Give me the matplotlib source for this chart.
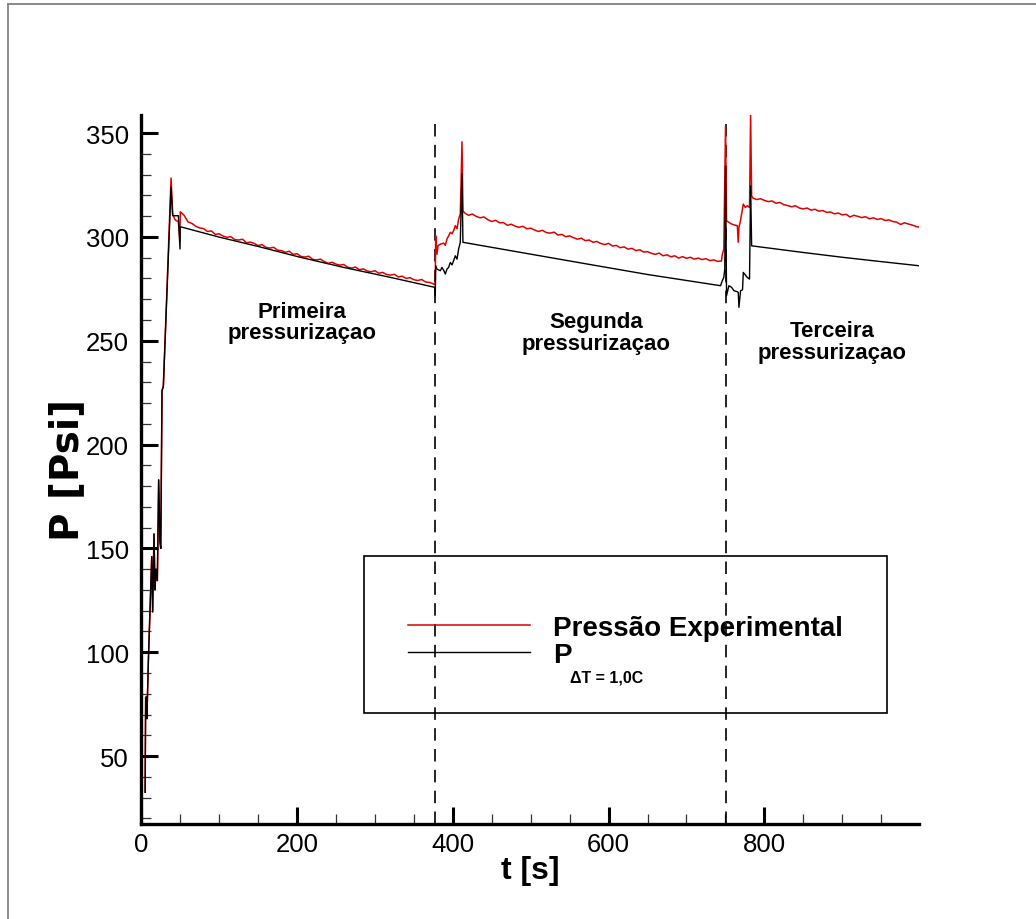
import matplotlib
matplotlib.use("Agg")
import matplotlib.pyplot as plt
from matplotlib.ticker import MultipleLocator
from matplotlib.patches import Rectangle
from matplotlib.lines import Line2D
from matplotlib.transforms import IdentityTransform
import numpy as np

plt.rcParams['font.family'] = ['Liberation Sans', 'DejaVu Sans']
plt.rcParams['lines.scale_dashes'] = False

# ---------------------------------------------------------------- data
# initial filling ramp (both curves coincide here)
ramp_t = [4.9, 5.6, 6.5, 7.2, 9.0, 13.4, 14.6, 16.3, 17.6, 18.9, 20.6, 22.3, 24.0, 25.0, 26.6, 28.3]
ramp_p = [32.6, 78.3, 78.5, 68.0, 95.0, 146.0, 119.4, 157.0, 130.0, 140.0, 134.5, 183.0, 153.0, 150.0, 226.0, 228.0]

# experimental pressure: first peak
exp_peak1_t = [38.2, 40.3, 43.3, 47.6, 49.5, 50.1]
exp_peak1_p = [328.3, 311.0, 308.3, 307.3, 298.0, 312.1]

# experimental pressure: first pressurization, sampled every 5 s from t = 55 s
exp_seg1_start, exp_seg1_step = 55.0, 5.0
exp_seg1_p = [310.4, 307.2, 306.5, 305.1, 304.3, 304.0, 302.6, 302.9, 301.2, 301.5,
              300.4, 299.8, 300.1, 298.7, 298.5, 298.9, 297.2, 297.5, 296.9, 295.8,
              296.3, 295.0, 294.6, 295.0, 293.6, 293.4, 292.6, 293.1, 291.6, 291.9,
              290.6, 290.3, 290.7, 289.2, 288.9, 289.3, 288.1, 287.3, 287.8, 286.9,
              286.4, 286.7, 285.4, 285.0, 285.5, 284.2, 284.6, 283.6, 283.2, 283.7,
              282.5, 282.9, 281.9, 281.6, 282.0, 280.7, 281.1, 280.0, 280.4, 279.4,
              279.0, 279.5, 278.3, 278.1, 277.4]

# experimental pressure: second pressurization transient
exp_tr2_t = [376.5, 377.5, 378.0, 379.7, 381.0, 384.0, 388.2, 390.4, 392.5, 394.6,
             396.8, 399.0, 401.0, 403.2, 405.4, 407.5, 409.6, 411.8, 413.0]
exp_tr2_p = [277.0, 277.3, 300.6, 291.7, 295.8, 296.5, 297.0, 296.0, 299.0, 300.5,
             302.2, 301.5, 303.0, 305.4, 304.0, 308.6, 311.0, 345.8, 312.6]

# experimental pressure: second pressurization, every 5 s from t = 415 s
exp_seg2_start, exp_seg2_step = 415.0, 5.0
exp_seg2_p = [311.6, 310.4, 311.0, 309.9, 309.2, 309.6, 308.3, 307.4, 308.0, 306.8,
              306.9, 305.6, 306.1, 305.2, 304.6, 305.1, 303.9, 304.2, 303.3, 302.6,
              303.2, 302.1, 301.8, 302.3, 300.9, 301.2, 300.1, 300.5, 299.6, 298.9,
              299.4, 298.2, 298.5, 297.4, 297.8, 296.8, 296.3, 296.9, 295.6, 295.9,
              294.8, 295.2, 294.1, 294.5, 293.4, 293.8, 292.7, 292.9, 292.1, 291.6,
              292.2, 290.9, 291.4, 290.4, 290.9, 289.8, 290.5, 289.7, 290.2, 289.3,
              289.8, 289.1, 289.5, 288.6, 288.9, 288.2, 288.4]

# experimental pressure: third pressurization transient
exp_tr3_t = [746.0, 748.0, 750.2, 751.5, 754.5, 758.0, 761.0, 765.3, 766.5, 767.4,
             769.5, 773.0, 775.5, 778.1, 781.0, 782.4, 783.7]
exp_tr3_p = [291.5, 294.2, 353.5, 307.8, 307.0, 306.2, 305.8, 305.4, 297.4, 304.5,
             308.0, 315.8, 314.2, 315.0, 314.2, 359.0, 319.8]

# experimental pressure: third pressurization, every 5 s from t = 785 s
exp_seg3_start, exp_seg3_step = 785.0, 5.0
exp_seg3_p = [318.8, 318.0, 318.4, 317.6, 317.0, 317.3, 316.2, 316.6, 315.5, 315.1,
              314.5, 315.0, 313.9, 313.5, 313.9, 312.9, 313.3, 312.4, 312.7, 311.8,
              312.0, 311.1, 311.5, 310.6, 310.9, 309.6, 310.4, 309.9, 309.3, 309.7,
              308.7, 309.2, 308.4, 308.8, 307.9, 308.2, 307.4, 307.1, 306.0, 306.8,
              306.2, 305.7, 305.0, 304.6]

# model pressure for a temperature difference of 1.0 C
mod_t = [38.2, 40.3, 47.6, 49.7, 50.1, 100.0, 150.0, 204.0, 260.0, 320.0, 377.0,
         377.5, 378.0, 379.7, 384.0, 386.0, 388.2, 390.4, 392.5, 394.6, 396.8, 399.0,
         401.0, 403.2, 405.4, 407.5, 409.6, 411.8, 413.0,
         480.0, 564.0, 650.0, 743.8,
         746.0, 748.0, 749.2, 750.2, 751.5, 754.5, 758.0, 761.0, 765.3, 766.5, 767.4,
         769.5, 772.0, 773.0, 776.0, 778.1, 781.0, 782.4, 783.7,
         850.0, 900.0, 950.0, 999.0]
mod_p = [324.0, 310.2, 310.2, 294.2, 304.9, 299.9, 295.4, 290.2, 285.3, 280.5, 275.7,
         271.7, 286.1, 284.5, 283.7, 285.3, 284.0, 282.1, 284.5, 285.3, 287.7, 286.5,
         288.5, 290.9, 289.3, 294.2, 297.4, 330.3, 297.4,
         293.0, 287.5, 281.9, 276.5,
         278.9, 280.5, 284.5, 334.0, 271.7, 276.5, 275.7, 274.1, 273.6, 273.3, 266.1,
         274.1, 274.5, 282.9, 281.5, 280.5, 279.7, 324.6, 295.7,
         292.5, 290.2, 288.1, 286.1]

# start of the 2nd and 3rd pressurizations
pressurization_t = [377.5, 751.0]
stage_labels = ["Primeira\npressurizaçao", "Segunda\npressurizaçao", "Terceira\npressurizaçao"]
stage_label_t = [206.5, 584.0, 887.5]
stage_label_p = [259.0, 254.0, 249.5]

legend_labels = ["Pressão Experimental", "P"]
legend_subscript = "\u0394T = 1,0C"

x_major = [0, 200, 400, 600, 800]
y_major = [50, 100, 150, 200, 250, 300, 350]


def sampled(start, step, values):
    return list(start + step * np.arange(len(values)))


t_exp = (ramp_t + exp_peak1_t
         + sampled(exp_seg1_start, exp_seg1_step, exp_seg1_p)
         + exp_tr2_t
         + sampled(exp_seg2_start, exp_seg2_step, exp_seg2_p)
         + exp_tr3_t
         + sampled(exp_seg3_start, exp_seg3_step, exp_seg3_p))
p_exp = ramp_p + exp_peak1_p + exp_seg1_p + exp_tr2_p + exp_seg2_p + exp_tr3_p + exp_seg3_p

t_mod = ramp_t + mod_t
p_mod = ramp_p + mod_p

# ---------------------------------------------------------------- figure
W, H = 1036, 920
fig = plt.figure(figsize=(W / 100, H / 100), dpi=100)
ax = fig.add_axes([141.3 / W, 1 - 825 / H, 778 / W, (825 - 116) / H])

ax.set_xlim(0, 999)
ax.set_ylim(17.3, 358.7)

line_exp, = ax.plot(t_exp, p_exp, color='#e00000', lw=1.1, zorder=3)
line_mod, = ax.plot(t_mod, p_mod, color='black', lw=1.0, zorder=4)

for tp in pressurization_t:
    ax.plot([tp, tp], [17.3, 355.0], color='black', lw=1.2, dashes=(9, 6), zorder=2)

for lab, tx, py in zip(stage_labels, stage_label_t, stage_label_p):
    ax.text(tx, py, lab, ha='center', va='center', fontsize=16, fontweight='bold',
            linespacing=1.05)

# axes styling
for side in ('top', 'right'):
    ax.spines[side].set_visible(False)
for side in ('left', 'bottom'):
    ax.spines[side].set_linewidth(2.4)

ax.xaxis.set_major_locator(plt.FixedLocator(x_major))
ax.xaxis.set_minor_locator(MultipleLocator(50))
ax.yaxis.set_major_locator(plt.FixedLocator(y_major))
ax.yaxis.set_minor_locator(MultipleLocator(10))
ax.tick_params(which='major', direction='in', length=12.5, width=2.2, labelsize=18.5, color='black')
ax.tick_params(which='minor', direction='in', length=7.2, width=0.9, color='#333333')
ax.tick_params(axis='y', which='major', pad=9)
ax.tick_params(axis='x', which='major', pad=6)

ax.set_xlabel("t [s]", fontsize=23, fontweight='bold')
ax.xaxis.set_label_coords(0.4996, -0.044)
ax.set_ylabel("P [Psi]", fontsize=28, fontweight='bold', family=['DejaVu Sans'])
ax.yaxis.set_label_coords(-0.071, 0.5)

# legend box
fig.add_artist(Rectangle((364 / W, 1 - 714 / H), 523 / W, 157 / H, transform=fig.transFigure,
                         fill=False, edgecolor='black', lw=1.2, zorder=5))
leg = ax.legend([line_exp, line_mod], legend_labels, loc='center left',
                bbox_to_anchor=(408 / W, 1 - 642.5 / H), bbox_transform=fig.transFigure,
                frameon=False, borderpad=0, borderaxespad=0, handlelength=4.4,
                handletextpad=0.83, labelspacing=0.05,
                prop={'size': 20, 'weight': 'bold'})

# outer frame (left and top edges)
fig.add_artist(Line2D([8 / W, 8 / W], [0, 1 - 5 / H], transform=fig.transFigure,
                      color='#808080', lw=1.3))
fig.add_artist(Line2D([8 / W, 1], [1 - 5 / H, 1 - 5 / H], transform=fig.transFigure,
                      color='#808080', lw=1.3))

# subscript of the model label, placed after the legend layout is known
fig.canvas.draw()
bb = leg.get_texts()[1].get_window_extent()
fig.text(bb.x1 - 2, bb.y0 - 13, legend_subscript, transform=IdentityTransform(),
         ha='left', va='baseline', fontsize=11.5, fontweight='bold')

fig.savefig("out.png", dpi=100)
